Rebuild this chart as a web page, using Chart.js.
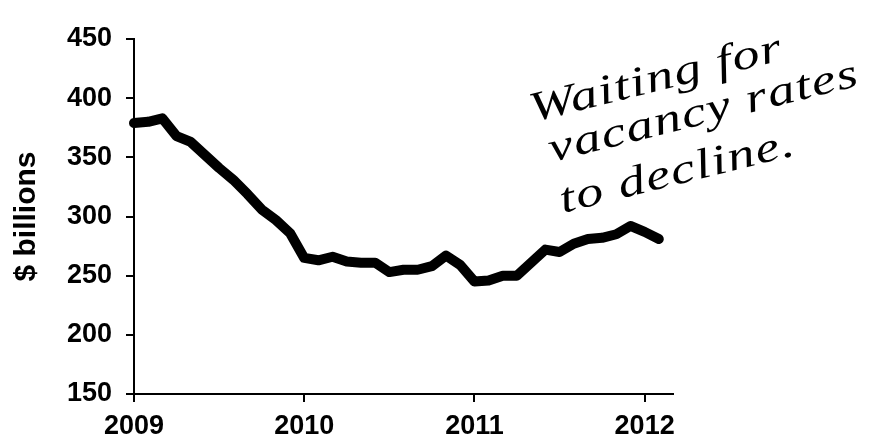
<!DOCTYPE html>
<html>
<head>
<meta charset="utf-8">
<script src="https://cdn.jsdelivr.net/npm/chart.js@4.4.1/dist/chart.umd.min.js"></script>
<style>
  html, body { margin: 0; padding: 0; background: #fff; }
  #wrap { width: 869px; height: 438px; position: relative; }
</style>
</head>
<body>
<div id="wrap"><canvas id="chart"></canvas></div>
<script>
// --- DATA (monthly, Jan 2009 .. Feb 2012) ---
const startYear = 2009;
const months = [0, 1, 2, 3, 4, 5, 6, 7, 8, 9, 10, 11, 12, 13, 14, 15, 16, 17, 18,
    19, 20, 21, 22, 23, 24, 25, 26, 27, 28, 29, 30, 31, 32, 33, 34, 35, 36, 37];
const values = [379, 380, 383, 368, 363, 352, 341, 331, 319, 306, 297, 286, 265,
    263, 266, 262, 261, 261, 253, 255, 255, 258, 267, 259, 245, 246, 250, 250, 261,
    272, 270, 277, 281, 282, 285, 292, 287, 281];
const yTicks = [150, 200, 250, 300, 350, 400, 450];
const yearTicks = [2009, 2010, 2011, 2012];
const noteLines = ['Waiting for', 'vacancy rates', 'to decline.'];

const points = months.map((m, i) => ({ x: m, y: values[i] }));

// handwritten note, drawn after the chart
const notePlugin = {
    id: 'note',
    afterDraw(chart) {
        const ctx = chart.ctx;
        const spots = [[533, 122], [552, 162], [563, 213]];
        ctx.save();
        ctx.fillStyle = '#000';
        ctx.font = 'italic 42px "Liberation Serif", serif';
        ctx.letterSpacing = '1px';
        noteLines.forEach((line, i) => {
            ctx.save();
            ctx.translate(spots[i][0], spots[i][1]);
            ctx.rotate(-14 * Math.PI / 180);
            ctx.scale(1.3, 1);
            ctx.fillText(line, 0, 0);
            ctx.restore();
        });
        ctx.restore();
    }
};

const axisFont = { family: 'Arial, "Liberation Sans", sans-serif', size: 27, weight: 'bold' };

new Chart(document.getElementById('chart'), {
    type: 'line',
    data: {
        datasets: [{
            data: points,
            borderColor: '#000',
            borderWidth: 10,
            borderJoinStyle: 'round',
            borderCapStyle: 'round',
            pointRadius: 0,
            tension: 0,
            clip: false
        }]
    },
    options: {
        responsive: true,
        maintainAspectRatio: false,
        animation: false,
        layout: { padding: { top: 39, right: 196, left: 0, bottom: 0 } },
        plugins: { legend: { display: false }, tooltip: { enabled: false } },
        scales: {
            x: {
                type: 'linear',
                min: 0,
                max: 38,
                afterFit: s => { s.height = 44; },
                afterBuildTicks: s => {
                    s.ticks = yearTicks.map(y => ({ value: (y - startYear) * 12 }));
                },
                ticks: {
                    color: '#000',
                    font: axisFont,
                    padding: 8,
                    maxRotation: 0,
                    callback: v => String(startYear + v / 12)
                },
                grid: { drawOnChartArea: false, color: '#000', lineWidth: 2, tickLength: 8 },
                border: { color: '#000', width: 2 }
            },
            y: {
                min: 150,
                max: 450,
                afterFit: s => { s.width = 134; },
                afterBuildTicks: s => { s.ticks = yTicks.map(v => ({ value: v })); },
                ticks: {
                    color: '#000',
                    font: axisFont,
                    padding: 14
                },
                title: {
                    display: true,
                    text: '$ billions',
                    color: '#000',
                    font: { family: 'Arial, "Liberation Sans", sans-serif', size: 30, weight: 'bold' },
                    padding: { top: 9, bottom: 0 }
                },
                grid: { drawOnChartArea: false, color: '#000', lineWidth: 2, tickLength: 8 },
                border: { color: '#000', width: 2 }
            }
        }
    },
    plugins: [notePlugin]
});
</script>
</body>
</html>
